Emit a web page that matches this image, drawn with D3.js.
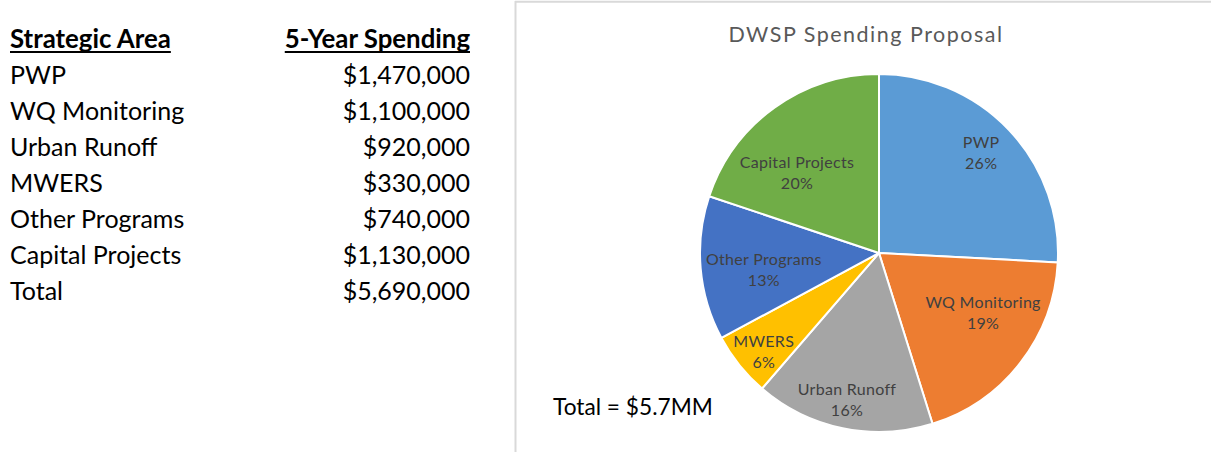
<!DOCTYPE html>
<html>
<head>
<meta charset="utf-8">
<script src="https://cdn.jsdelivr.net/npm/d3@7/dist/d3.min.js"></script>
<style>
  body { margin: 0; background: #fff; }
  svg { display: block; }
</style>
</head>
<body>
<svg id="chart" width="1211" height="452"></svg>
<script>
// ---- data ----
const categories = ["PWP", "WQ Monitoring", "Urban Runoff", "MWERS", "Other Programs", "Capital Projects"];
const spending = [1470000, 1100000, 920000, 330000, 740000, 1130000];
const sliceColors = ["#5B9BD5", "#ED7D31", "#A5A5A5", "#FFC000", "#4472C4", "#70AD47"];
const tableHeaders = ["Strategic Area", "5-Year Spending"];
const totalLabel = "Total";
const chartTitle = "DWSP Spending Proposal";

// ---- layout ----
const W = 1211, H = 452;
const FONT = "Lato, 'Open Sans', sans-serif";
const pieCenter = [879, 253];
const pieRadius = 179;
// label placement inside each slice: [fraction of radius, angle shift in degrees]
const labelPlacement = {
  "PWP": [0.80, -1],
  "WQ Monitoring": [0.67, -8],
  "Urban Runoff": [0.84, 0.6],
  "MWERS": [0.85, -2],
  "Other Programs": [0.65, -3.3],
  "Capital Projects": [0.64, -10]
};

const svg = d3.select("#chart");
svg.append("rect").attr("width", W).attr("height", H).attr("fill", "#fff");

const total = d3.sum(spending);
const money = v => "$" + d3.format(",")(v);

// ---- spending table ----
const table = svg.append("g").attr("font-family", FONT).attr("fill", "#000");
const tableLeft = 10, tableRight = 470, headerBase = 48, firstRow = 84, rowStep = 36;
const fontSizeTable = 25;

const h1 = table.append("text").attr("x", tableLeft).attr("y", headerBase)
  .attr("font-size", 25.8).attr("font-weight", 700).text(tableHeaders[0]);
const h2 = table.append("text").attr("x", tableRight).attr("y", headerBase)
  .attr("text-anchor", "end").attr("font-size", 25.8).attr("font-weight", 700).text(tableHeaders[1]);
const w1 = h1.node().getComputedTextLength();
const w2 = h2.node().getComputedTextLength();
table.append("rect").attr("x", tableLeft).attr("y", headerBase + 3).attr("width", w1).attr("height", 2);
table.append("rect").attr("x", tableRight - w2).attr("y", headerBase + 3).attr("width", w2).attr("height", 2);

const rows = categories.map((c, i) => ({ name: c, value: spending[i] }))
  .concat([{ name: totalLabel, value: total }]);
const rowY = d3.scalePoint().domain(d3.range(rows.length)).range([firstRow, firstRow + rowStep * (rows.length - 1)]);

table.selectAll("text.name").data(rows).join("text").attr("class", "name")
  .attr("x", tableLeft).attr("y", (d, i) => rowY(i))
  .attr("font-size", fontSizeTable).text(d => d.name);
table.selectAll("text.val").data(rows).join("text").attr("class", "val")
  .attr("x", tableRight).attr("y", (d, i) => rowY(i)).attr("text-anchor", "end")
  .attr("font-size", fontSizeTable).text(d => money(d.value));

// ---- chart frame ----
svg.append("line").attr("x1", 515.5).attr("x2", 515.5).attr("y1", 1).attr("y2", H).attr("stroke", "#d9d9d9").attr("stroke-width", 2);
svg.append("line").attr("x1", 515).attr("x2", W).attr("y1", 1.8).attr("y2", 1.8).attr("stroke", "#d9d9d9").attr("stroke-width", 2);

svg.append("text").attr("x", 866).attr("y", 42).attr("text-anchor", "middle")
  .attr("font-family", FONT).attr("font-size", 21.5).attr("letter-spacing", 1.5)
  .attr("fill", "#595959").text(chartTitle);

// ---- pie ----
const pie = d3.pie().sort(null).value(d => d.value);
const arcs = pie(categories.map((c, i) => ({ name: c, value: spending[i], color: sliceColors[i] })));
const arc = d3.arc().innerRadius(0).outerRadius(pieRadius);

const g = svg.append("g").attr("transform", `translate(${pieCenter[0]},${pieCenter[1]})`);
g.selectAll("path").data(arcs).join("path")
  .attr("d", arc).attr("fill", d => d.data.color)
  .attr("stroke", "#fff").attr("stroke-width", 2).attr("stroke-linejoin", "round");

const labels = g.selectAll("text.lbl").data(arcs).join("text").attr("class", "lbl")
  .attr("font-family", FONT).attr("font-size", 16).attr("letter-spacing", 0.3)
  .attr("fill", "#404040").attr("text-anchor", "middle")
  .attr("transform", d => {
    const [f, shift] = labelPlacement[d.data.name];
    const a = (d.startAngle + d.endAngle) / 2 + shift * Math.PI / 180;
    const r = f * pieRadius;
    return `translate(${r * Math.sin(a)},${-r * Math.cos(a)})`;
  });
labels.append("tspan").attr("x", 0).attr("y", -5).text(d => d.data.name);
labels.append("tspan").attr("x", 0).attr("y", 16).text(d => Math.round(d.data.value / total * 100) + "%");

// ---- total note ----
svg.append("text").attr("x", 553).attr("y", 415).attr("font-family", FONT).attr("font-size", 22.7)
  .attr("fill", "#000").text("Total = $" + d3.format(".1f")(total / 1e6) + "MM");
</script>
</body>
</html>
